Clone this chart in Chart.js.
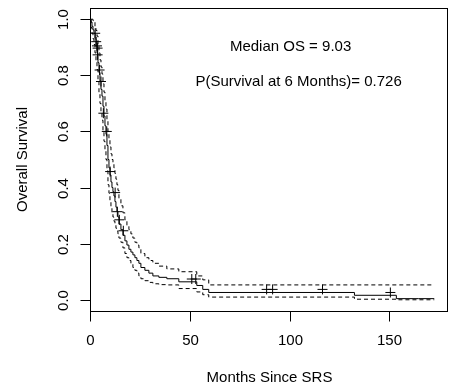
<!DOCTYPE html>
<html>
<head>
<meta charset="utf-8">
<script src="https://cdn.jsdelivr.net/npm/chart.js@4"></script>
<style>
    html, body { margin: 0; padding: 0; background: #fff; }
    #wrap { width: 454px; height: 390px; }
</style>
</head>
<body>
<div id="wrap"><canvas id="kmChart" width="454" height="390"></canvas></div>
<script>
// Kaplan-Meier estimate (months since SRS -> overall survival)
var kmTime = [0, 0.5, 1, 1.5, 2, 2.5, 3, 3.5, 4, 4.5, 5, 5.5, 6, 6.5, 7, 7.5, 8, 8.5, 9, 9.5,
    10, 10.5, 11, 11.5, 12, 12.5, 13, 13.5, 14, 15, 16, 17, 18, 19, 20, 21, 22, 23, 24, 25,
    27, 29, 31, 34, 38, 44, 53, 56, 59, 132, 153, 164, 172];
var kmSurv = [1, 0.99, 0.975, 0.962, 0.95, 0.93, 0.905, 0.88, 0.845, 0.81, 0.78, 0.75, 0.726, 0.69, 0.655, 0.62, 0.59, 0.55, 0.50, 0.47,
    0.445, 0.42, 0.40, 0.385, 0.37, 0.35, 0.33, 0.315, 0.295, 0.27, 0.25, 0.23, 0.21, 0.195, 0.18, 0.17, 0.16, 0.15, 0.14, 0.13,
    0.115, 0.105, 0.095, 0.085, 0.08, 0.075, 0.064, 0.051, 0.037, 0.026, 0.016, 0.004, 0.004];
var kmUpper = [1, 1, 1, 0.995, 0.99, 0.975, 0.96, 0.94, 0.91, 0.88, 0.855, 0.83, 0.805, 0.77, 0.74, 0.71, 0.68, 0.64, 0.60, 0.57,
    0.545, 0.52, 0.50, 0.485, 0.47, 0.45, 0.43, 0.41, 0.39, 0.36, 0.335, 0.31, 0.285, 0.265, 0.25, 0.235, 0.22, 0.205, 0.195, 0.185,
    0.165, 0.15, 0.14, 0.13, 0.12, 0.11, 0.10, 0.085, 0.071, 0.053, 0.053, 0.053, 0.053];
var kmLower = [1, 0.97, 0.95, 0.93, 0.91, 0.88, 0.85, 0.82, 0.78, 0.74, 0.70, 0.67, 0.64, 0.60, 0.565, 0.53, 0.50, 0.46, 0.41, 0.38,
    0.355, 0.33, 0.31, 0.295, 0.28, 0.27, 0.255, 0.245, 0.235, 0.22, 0.205, 0.185, 0.165, 0.15, 0.14, 0.13, 0.115, 0.105, 0.095, 0.085,
    0.075, 0.068, 0.062, 0.057, 0.054, 0.053, 0.04, 0.028, 0.018, 0.0096, 0.002, 0, 0];

// censored patients (+ marks)
var censorTime = [2.1, 2.6, 3.0, 3.3, 3.3, 4.3, 5.0, 6.2, 7.9, 9.6, 12.1, 13.2, 14.2, 16.2, 50.5, 52.5, 88, 91, 116, 150];
var censorSurv = [0.95, 0.92, 0.905, 0.897, 0.873, 0.819, 0.778, 0.665, 0.60, 0.457, 0.382, 0.314, 0.285, 0.246, 0.074, 0.074, 0.037, 0.037, 0.037, 0.026];

var xTicks = [0, 50, 100, 150];
var yTicks = [0, 0.2, 0.4, 0.6, 0.8, 1.0];
var yTickLabels = ['0.0', '0.2', '0.4', '0.6', '0.8', '1.0'];

var xTitle = 'Months Since SRS';
var yTitle = 'Overall Survival';
var notes = ['Median OS = 9.03', 'P(Survival at 6 Months)= 0.726'];
var notePos = [[100, 0.90], [104, 0.775]];

var FONT = '15px "Liberation Sans", Arial, sans-serif';

function toPoints(xs, ys) {
    return xs.map(function (x, i) { return {x: x, y: ys[i]}; });
}

// R-style box, axes and text
var rAxes = {
    id: 'rAxes',
    afterDraw: function (chart) {
        var ctx = chart.ctx,
            area = chart.chartArea,
            xs = chart.scales.x,
            ys = chart.scales.y;
        ctx.save();
        ctx.strokeStyle = '#000';
        ctx.fillStyle = '#000';
        ctx.lineWidth = 1;
        ctx.strokeRect(Math.round(area.left) - 0.5, Math.round(area.top) + 0.5,
            Math.round(area.right - area.left), Math.round(area.bottom - area.top));

        ctx.font = FONT;
        ctx.textAlign = 'center';
        ctx.textBaseline = 'middle';
        var yb = Math.round(area.bottom) + 0.5;
        xTicks.forEach(function (v) {
            var px = Math.round(xs.getPixelForValue(v)) - 0.5;
            ctx.beginPath();
            ctx.moveTo(px, yb);
            ctx.lineTo(px, yb + 10);
            ctx.stroke();
            ctx.fillText(String(v), px, 341);
        });

        var xl = Math.round(area.left) - 0.5;
        yTicks.forEach(function (v, i) {
            var py = Math.round(ys.getPixelForValue(v)) + 0.5;
            ctx.beginPath();
            ctx.moveTo(xl, py);
            ctx.lineTo(xl - 10, py);
            ctx.stroke();
            ctx.save();
            ctx.translate(64, py);
            ctx.rotate(-Math.PI / 2);
            ctx.fillText(yTickLabels[i], 0, 0);
            ctx.restore();
        });

        ctx.fillText(xTitle, (area.left + area.right) / 2, 378);
        ctx.save();
        ctx.translate(23, (area.top + area.bottom) / 2);
        ctx.rotate(-Math.PI / 2);
        ctx.fillText(yTitle, 0, 0);
        ctx.restore();

        notes.forEach(function (t, i) {
            ctx.fillText(t, xs.getPixelForValue(notePos[i][0]), ys.getPixelForValue(notePos[i][1]));
        });
        ctx.restore();
    }
};

var ctx = document.getElementById('kmChart');
var kmChart = new Chart(ctx, {
    type: 'line',
    data: {
        datasets: [
            {
                label: 'upper',
                data: toPoints(kmTime, kmUpper),
                borderColor: '#000',
                borderWidth: 1,
                borderDash: [4, 3],
                stepped: 'after',
                pointRadius: 0,
                fill: false
            },
            {
                label: 'lower',
                data: toPoints(kmTime, kmLower),
                borderColor: '#000',
                borderWidth: 1,
                borderDash: [4, 3],
                stepped: 'after',
                pointRadius: 0,
                fill: false
            },
            {
                label: 'survival',
                data: toPoints(kmTime, kmSurv),
                borderColor: '#000',
                borderWidth: 1,
                stepped: 'after',
                pointRadius: 0,
                fill: false
            },
            {
                label: 'censored',
                data: toPoints(censorTime, censorSurv),
                showLine: false,
                pointStyle: 'cross',
                pointRadius: 5,
                pointBorderColor: '#000',
                pointBorderWidth: 1
            }
        ]
    },
    options: {
        responsive: false,
        animation: false,
        layout: {padding: {left: 91, top: 8, right: 2, bottom: 79}},
        plugins: {legend: {display: false}, tooltip: {enabled: false}},
        scales: {
            x: {type: 'linear', min: 0, max: 178.88, display: false},
            y: {type: 'linear', min: -0.04, max: 1.04, display: false}
        }
    },
    plugins: [rAxes]
});
</script>
</body>
</html>
